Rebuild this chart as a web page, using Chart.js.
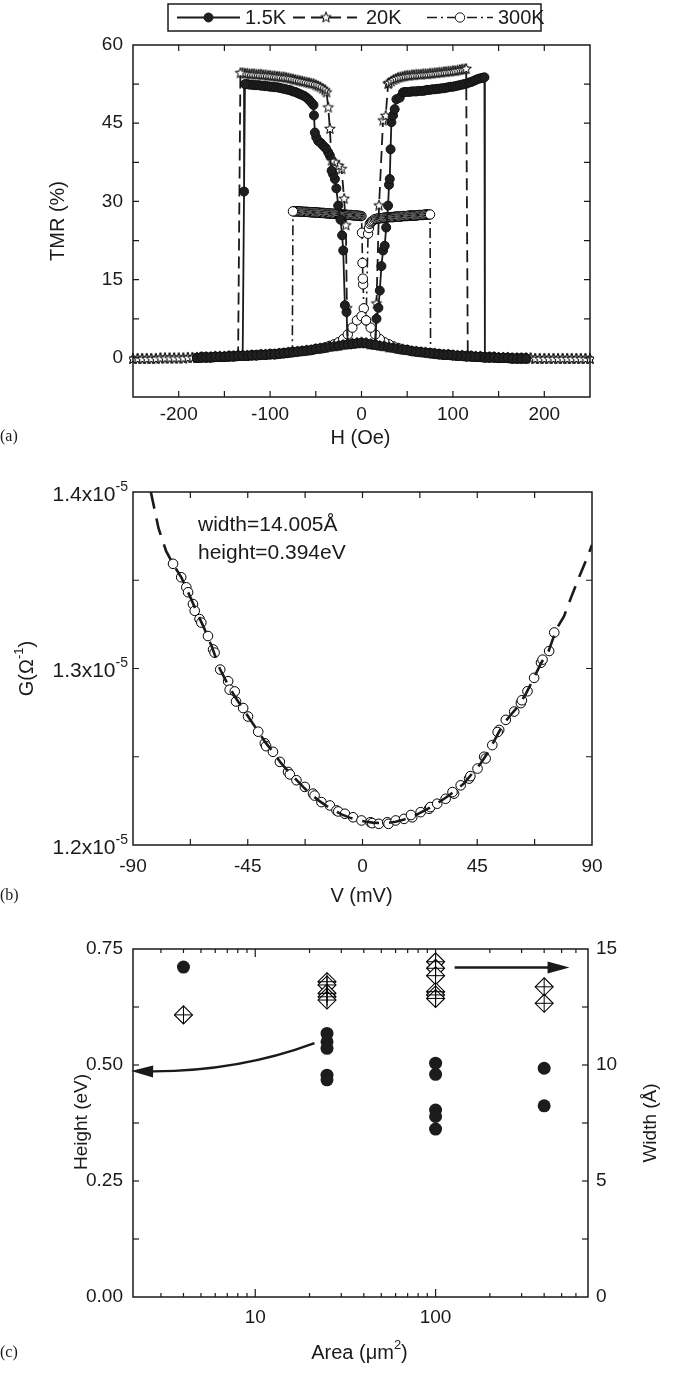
<!DOCTYPE html>
<html><head><meta charset="utf-8">
<script src="https://cdn.jsdelivr.net/npm/chart.js@4.4.1/dist/chart.umd.min.js"></script>
<style>
html,body{margin:0;padding:0;background:#fff;}
#wrap{position:relative;width:680px;height:1374px;background:#fff;overflow:hidden;}
canvas{position:absolute;left:0;}
</style></head><body>
<div id="wrap">
<canvas id="ca" width="680" height="460" style="top:0px"></canvas>
<canvas id="cb" width="680" height="455" style="top:460px"></canvas>
<canvas id="cc" width="680" height="459" style="top:915px"></canvas>
</div>
<script>
// ======================= DATA =======================
// ---- Panel (a): TMR (%) vs H (Oe) ----
const seriesNames = ['1.5K', '20K', '300K'];
const hTicksLabeled = [-200, -100, 0, 100, 200];
const tmrTicksLabeled = [0, 15, 30, 45, 60];

// low-resistance (parallel) baseline, shared H grid
const tailH = [-250,-245,-240,-235,-230,-225,-220,-215,-210,-205,
 -200,-195,-190,-185,-180,-175,-170,-165,-160,-155,
 -150,-145,-140,-135,-130,-125,-120,-115,-110,-105,
 -100,-95,-90,-85,-80,-75,-70,-65,-60,-55,
 -50,-45,-40,-35,-30,-25,-20,-15,-10,-5,
 0,
 5,10,15,20,25,30,35,40,45,50,
 55,60,65,70,75,80,85,90,95,100,
 105,110,115,120,125,130,135,140,145,150,
 155,160,165,170,175,180,185,190,195,200,
 205,210,215,220,225,230,235,240,245,250];
const tail15K = [null,null,null,null,null,null,null,null,null,null,
 null,null,null,null,0.0,0.1,0.1,0.1,0.2,0.2,
 0.2,0.3,0.3,0.4,0.4,0.4,0.5,0.5,0.6,0.6,
 0.7,0.7,0.8,0.9,1.0,1.1,1.2,1.3,1.4,1.5,
 1.7,1.8,1.9,2.1,2.2,2.3,2.5,2.6,2.7,2.8,
 2.9,
 2.8,2.6,2.5,2.3,2.2,2.0,1.9,1.7,1.6,1.5,
 1.3,1.2,1.1,1.0,0.9,0.8,0.7,0.6,0.6,0.5,
 0.4,0.4,0.3,0.3,0.2,0.2,0.1,0.1,0.1,0.0,
 0.0,0.0,-0.1,-0.1,-0.1,-0.1,null,null,null,null,
 null,null,null,null,null,null,null,null,null,null];
const tail20K = [-0.2,-0.2,-0.2,-0.2,-0.2,-0.2,-0.1,-0.1,-0.1,-0.1,
 -0.1,-0.1,0.0,0.0,0.0,0.1,0.1,0.1,0.2,0.2,
 0.2,0.3,0.3,0.4,0.4,0.4,0.5,0.5,0.6,0.6,
 0.7,0.7,0.8,0.9,1.0,1.1,1.2,1.3,1.4,1.5,
 1.7,1.8,1.9,2.1,2.2,2.3,2.5,2.6,2.7,2.8,
 2.9,
 2.8,2.6,2.5,2.3,2.2,2.0,1.9,1.7,1.6,1.5,
 1.3,1.2,1.1,1.0,0.9,0.8,0.7,0.6,0.6,0.5,
 0.4,0.4,0.3,0.3,0.2,0.2,0.1,0.1,0.1,0.0,
 0.0,0.0,-0.1,-0.1,-0.1,-0.1,-0.1,-0.2,-0.2,-0.2,
 -0.2,-0.2,-0.2,-0.2,-0.2,-0.2,-0.2,-0.2,-0.2,-0.2];
const tail300K = [null,null,null,null,null,null,null,null,null,null,
 null,null,null,null,0.0,0.1,0.1,0.1,0.2,0.2,
 0.2,0.3,0.3,0.4,0.4,0.4,0.5,0.5,0.6,0.6,
 0.7,0.7,0.8,0.9,1.0,1.1,1.2,1.3,1.4,1.5,
 1.7,1.8,2.0,2.3,2.6,3.0,3.6,4.5,5.8,7.2,
 8.0,
 7.2,5.8,4.5,3.6,3.0,2.6,2.2,1.9,1.6,1.5,
 1.3,1.2,1.1,1.0,0.9,0.8,0.7,0.6,0.6,0.5,
 0.4,0.4,0.3,0.3,0.2,0.2,0.1,0.1,0.1,0.0,
 0.0,0.0,-0.1,-0.1,-0.1,-0.1,null,null,null,null,
 null,null,null,null,null,null,null,null,null,null];

// switching + high-resistance plateau, [H, TMR], in sweep order
const down15K = [[-16.4,8.8],[-18.2,10.1],[-20.0,20.6],[-21.2,23.5],[-23.0,26.5],[-25.5,29.2],[-27.5,32.5],[-29.1,34.3],[-31.0,35.2],[-32.7,35.9],[-34.6,38.8],[-36.4,39.4],[-39.0,40.2],[-41.9,40.7],[-44.5,41.2],[-47.3,41.6],[-49.5,42.3],[-51.0,43.2],[-52.0,46.5],
 [-52.5,48.5],[-55,49.0],[-57.5,49.5],[-60,49.9],[-62.5,50.2],[-65,50.4],[-67.5,50.6],[-70,50.8],[-72.5,51.0],[-75,51.1],[-77.5,51.3],[-80,51.4],[-82.5,51.5],[-85,51.6],[-87.5,51.7],[-90,51.8],[-92.5,51.9],[-95,51.9],[-97.5,52.0],[-100,52.0],[-102.5,52.1],[-105,52.1],[-107.5,52.2],[-110,52.2],[-112.5,52.3],[-115,52.3],[-117.5,52.3],[-120,52.4],[-122.5,52.4],[-125,52.5],[-127.5,52.5],[-128.5,31.9]];
const up15K = [[16.4,7.5],[18.5,9.6],[20.0,12.9],[21.8,17.6],[23.6,20.6],[25.4,21.5],[27.0,25.0],[29.1,29.2],[30.1,33.2],[30.9,34.3],[31.8,40.0],[32.7,45.2],[34.5,46.5],[36.3,47.7],[38.2,49.6],[41.8,49.9],[45.4,50.9],
 [47.5,51.0],[50,51.0],[52.5,51.0],[55,51.1],[57.5,51.1],[60,51.1],[62.5,51.2],[65,51.2],[67.5,51.2],[70,51.3],[72.5,51.4],[75,51.4],[77.5,51.5],[80,51.5],[82.5,51.6],[85,51.6],[87.5,51.7],[90,51.7],[92.5,51.8],[95,51.9],[97.5,52.0],[100,52.0],[102.5,52.1],[105,52.2],[107.5,52.3],[110,52.4],[112.5,52.5],[115,52.6],[117.5,52.8],[120,52.9],[122.5,53.1],[125,53.3],[127.5,53.5],[130,53.6],[132.5,53.7],[134.5,53.8]];
const down20K = [[-16.0,9.5],[-17.1,25.4],[-19.0,30.5],[-21.8,36.2],[-25.0,36.8],[-29.1,37.5],[-32.7,37.8],[-34.6,43.9],[-36.4,48.0],[-38.2,50.9],
 [-40,51.3],[-42.5,51.6],[-45,51.9],[-47.5,52.1],[-50,52.3],[-52.5,52.5],[-55,52.6],[-57.5,52.7],[-60,52.8],[-62.5,52.9],[-65,53.0],[-67.5,53.1],[-70,53.2],[-72.5,53.3],[-75,53.4],[-77.5,53.5],[-80,53.6],[-82.5,53.7],[-85,53.8],[-87.5,53.8],[-90,53.9],[-92.5,53.9],[-95,54.0],[-97.5,54.0],[-100,54.1],[-102.5,54.1],[-105,54.2],[-107.5,54.2],[-110,54.3],[-112.5,54.3],[-115,54.3],[-117.5,54.4],[-120,54.4],[-122.5,54.4],[-125,54.5],[-127.5,54.5],[-130,54.6],[-132.5,54.6]];
const up20K = [[16.4,10.4],[19.2,29.2],[23.6,45.5],[26.5,46.4],[29.1,52.5],
 [30,52.7],[32.5,53.0],[35,53.3],[37.5,53.5],[40,53.7],[42.5,53.8],[45,53.9],[47.5,54.0],[50,54.1],[52.5,54.1],[55,54.2],[57.5,54.2],[60,54.3],[62.5,54.3],[65,54.3],[67.5,54.4],[70,54.4],[72.5,54.4],[75,54.5],[77.5,54.5],[80,54.6],[82.5,54.6],[85,54.7],[87.5,54.7],[90,54.8],[92.5,54.8],[95,54.9],[97.5,54.9],[100,55.0],[102.5,55.0],[105,55.1],[107.5,55.2],[110,55.3],[112.5,55.3],[114.5,55.4],[116.3,0.3]];
const down300K = [[2.5,9.5],[1.8,14.1],[1.5,15.2],[1.1,18.2],[0.5,24.0],
 [0,27.2],[-1.25,27.2],[-2.5,27.25],[-3.75,27.25],[-5,27.3],[-6.25,27.3],[-7.5,27.3],[-8.75,27.35],[-10,27.35],[-11.25,27.4],[-12.5,27.4],[-13.75,27.4],[-15,27.4],[-16.25,27.45],[-17.5,27.45],[-18.75,27.45],[-20,27.5],[-21.25,27.5],[-22.5,27.5],[-23.75,27.55],[-25,27.55],[-26.25,27.6],[-27.5,27.6],[-28.75,27.6],[-30,27.6],[-31.25,27.65],[-32.5,27.65],[-33.75,27.65],[-35,27.7],[-36.25,27.7],[-37.5,27.7],[-38.75,27.75],[-40,27.75],[-41.25,27.8],[-42.5,27.8],[-43.75,27.8],[-45,27.8],[-46.25,27.85],[-47.5,27.85],[-48.75,27.85],[-50,27.9],[-51.25,27.9],[-52.5,27.9],[-53.75,27.9],[-55,27.95],[-56.25,27.95],[-57.5,27.95],[-58.75,28.0],[-60,28.0],[-61.25,28.0],[-62.5,28.0],[-63.75,28.0],[-65,28.05],[-66.25,28.05],[-67.5,28.05],[-68.75,28.1],[-70,28.1],[-71.25,28.1],[-72.5,28.1],[-73.75,28.1],[-75,28.1],[-75.7,1.1]];
const up300K = [[7.2,23.8],[8.2,24.9],[9.1,25.7],[10.3,26.0],[11.5,26.2],[13.0,26.4],[14.5,26.6],[16.0,26.65],
 [17.5,26.7],[18.75,26.75],[20,26.8],[21.25,26.8],[22.5,26.8],[23.75,26.85],[25,26.9],[26.25,26.9],[27.5,26.9],[28.75,26.95],[30,27.0],[31.25,27.0],[32.5,27.0],[33.75,27.0],[35,27.0],[36.25,27.05],[37.5,27.1],[38.75,27.1],[40,27.1],[41.25,27.1],[42.5,27.1],[43.75,27.15],[45,27.2],[46.25,27.2],[47.5,27.2],[48.75,27.2],[50,27.2],[51.25,27.25],[52.5,27.3],[53.75,27.3],[55,27.3],[56.25,27.3],[57.5,27.3],[58.75,27.3],[60,27.3],[61.25,27.35],[62.5,27.4],[63.75,27.4],[65,27.4],[66.25,27.4],[67.5,27.4],[68.75,27.45],[70,27.5],[71.25,27.5],[72.5,27.5],[73.75,27.5],[75,27.5],[75.6,0.9]];

// ---- Panel (b): G vs V ----
const vTicksLabeled = [-90, -45, 0, 45, 90];
const gTicksLabeled = [1.2, 1.3, 1.4];            // in units of 1e-5 Ohm^-1
const vData = [-74.3,-71.1,-69.1,-68.4,-66.5,-65.8,-63.9,-63.2,-60.6,-58.6,-58.0,-55.8,-52.7,-52.1,-50.1,-49.6,-46.8,-44.9,-40.9,-38.3,-37.8,-35.1,-32.4,-29.2,-28.5,-25.9,-22.6,-19.4,-18.8,-16.1,-12.8,-10.2,-9.5,-6.9,-3.7,-0.4,
 3.1,3.8,6.4,9.7,10.2,13.0,16.3,19.5,19.0,22.8,26.1,26.6,29.3,32.6,35.9,35.3,38.5,41.8,42.3,45.1,47.7,48.3,50.9,53.6,53.0,56.2,59.5,62.1,62.5,64.7,67.3,70.0,70.6,73.2,75.2];
const gData = [1.3593,1.3517,1.3460,1.3432,1.3365,1.3327,1.3280,1.3260,1.3184,1.3108,1.3090,1.2994,1.2928,1.2880,1.2870,1.2813,1.2776,1.2728,1.2642,1.2576,1.2560,1.2528,1.2471,1.2414,1.2400,1.2367,1.2329,1.2291,1.2280,1.2243,1.2224,1.2196,1.2190,1.2177,1.2157,1.2139,
 1.2129,1.2124,1.2120,1.2129,1.2120,1.2139,1.2148,1.2157,1.2170,1.2186,1.2205,1.2215,1.2234,1.2262,1.2291,1.2300,1.2338,1.2376,1.2390,1.2433,1.2500,1.2490,1.2566,1.2652,1.2640,1.2709,1.2756,1.2804,1.2820,1.2871,1.2947,1.3033,1.3050,1.3099,1.3204];
const vFit = [-83,-80,-77,-74,-71,-68,-65,-62,-59,-56,-53,-50,-47,-44,-41,-38,-35,-32,-29,-26,-23,-20,-17,-14,-11,-8,-5,-2,1,4,7,10,13,16,19,22,25,28,31,34,37,40,43,46,49,52,55,58,61,64,67,70,73,76,79,82,85,88,90];
const gFit = [1.4000,1.3795,1.3665,1.3585,1.3515,1.3420,1.3320,1.3225,1.3120,1.3000,1.2915,1.2840,1.2775,1.2710,1.2645,1.2580,1.2525,1.2465,1.2415,1.2370,1.2325,1.2285,1.2250,1.2220,1.2195,1.2172,1.2155,1.2142,1.2133,1.2127,1.2124,1.2125,1.2132,1.2143,1.2158,1.2178,1.2200,1.2225,1.2252,1.2282,1.2315,1.2352,1.2405,1.2455,1.2520,1.2600,1.2680,1.2735,1.2785,1.2855,1.2940,1.3030,1.3100,1.3222,1.3295,1.3410,1.3520,1.3625,1.3700];
const fitLabels = ['width=14.005\u00C5', 'height=0.394eV'];

// ---- Panel (c): barrier height / width vs junction area ----
const areaTicks = [3,4,5,6,7,8,9,10,20,30,40,50,60,70,80,90,100,200,300,400,500,600,700];
const areaTicksLabeled = [10, 100];
const heightTicksLabeled = [0, 0.25, 0.5, 0.75];
const widthTicksLabeled = [0, 5, 10, 15];
const areaForHeight = [4, 25,25,25,25,25, 100,100,100,100,100, 400,400];
const heightEV = [0.711, 0.568,0.550,0.536,0.478,0.468, 0.504,0.480,0.403,0.389,0.362, 0.493,0.412];
const areaForWidth = [4, 25,25,25,25,25, 100,100,100,100,100,100, 400,400];
const widthA = [12.16, 13.59,13.45,13.09,12.94,12.80, 14.45,14.17,13.85,13.16,13.02,12.87, 13.37,12.66];
// arrow annotations, data coordinates
const arrowHeight = {from: [21.3, 0.547], ctrl: [7.7, 0.483], to: [2.05, 0.487]};
const arrowWidth = {from: [127.5, 14.2], to: [553, 14.2]};

// ======================= STYLE / HELPERS =======================
const FONT = '"Liberation Sans", Arial, Helvetica, sans-serif';
const SERIF = '"Liberation Serif", "Times New Roman", serif';
const INK = '#1a1a1a';
const TICK = 19, TITLE = 20;
Chart.defaults.font.family = FONT;
Chart.defaults.color = INK;

function makeStar(r, ri) {
  const s = Math.ceil(2 * r + 3), c = document.createElement('canvas');
  c.width = c.height = s;
  const g = c.getContext('2d'), cx = s / 2, cy = s / 2;
  g.beginPath();
  for (let i = 0; i < 10; i++) {
    const ang = -Math.PI / 2 + i * Math.PI / 5, rr = i % 2 ? ri : r;
    g.lineTo(cx + rr * Math.cos(ang), cy + rr * Math.sin(ang));
  }
  g.closePath(); g.fillStyle = '#fff'; g.fill();
  g.strokeStyle = '#000'; g.lineWidth = 1; g.stroke();
  return c;
}
const starImg = makeStar(5.5, 2.3);

function drawRich(ctx, parts, x, y, align, size) {
  const main = size + 'px ' + FONT, sup = Math.round(size * 0.65) + 'px ' + FONT;
  let w = 0;
  parts.forEach(p => { ctx.font = p.sup ? sup : main; p.w = ctx.measureText(p.t).width; w += p.w; });
  let cx = align === 'right' ? x - w : align === 'center' ? x - w / 2 : x;
  ctx.textBaseline = 'middle'; ctx.textAlign = 'left'; ctx.fillStyle = INK;
  parts.forEach(p => { ctx.font = p.sup ? sup : main; ctx.fillText(p.t, cx, p.sup ? y - size * 0.38 : y); cx += p.w; });
}
function drawText(ctx, t, x, y, align, font, rot) {
  ctx.save(); ctx.fillStyle = INK; ctx.font = font; ctx.textAlign = align; ctx.textBaseline = 'middle';
  ctx.translate(x, y); if (rot) ctx.rotate(rot); ctx.fillText(t, 0, 0); ctx.restore();
}
function makeFrame(axes, extra) {
  return {
    id: 'frame',
    afterDraw(chart) {
      const {ctx, chartArea: a} = chart;
      ctx.save();
      ctx.strokeStyle = INK; ctx.lineWidth = 1.5;
      ctx.strokeRect(a.left, a.top, a.right - a.left, a.bottom - a.top);
      ctx.lineWidth = 1.2;
      axes.forEach(ax => {
        const s = chart.scales[ax.id];
        s.ticks.forEach(t => {
          const p = s.getPixelForValue(t.value);
          const len = ax.major && ax.major(t.value) ? ax.lenMajor : ax.len;
          ctx.beginPath();
          if (s.isHorizontal()) {
            if (p < a.left + 1 || p > a.right - 1) return;
            ctx.moveTo(p, a.bottom); ctx.lineTo(p, a.bottom - len);
            ctx.moveTo(p, a.top); ctx.lineTo(p, a.top + len);
          } else {
            if (p < a.top + 1 || p > a.bottom - 1) return;
            if (ax.sides.includes('l')) { ctx.moveTo(a.left, p); ctx.lineTo(a.left + len, p); }
            if (ax.sides.includes('r')) { ctx.moveTo(a.right, p); ctx.lineTo(a.right - len, p); }
          }
          ctx.stroke();
        });
      });
      ctx.restore();
      if (extra) { ctx.save(); extra(chart, ctx, a); ctx.restore(); }
    }
  };
}
const near = (arr, v) => arr.some(u => Math.abs(u - v) < 1e-6);
function baseTicks(pad, cb) {
  return {color: INK, font: {family: FONT, size: TICK}, padding: pad, autoSkip: false, maxRotation: 0, minRotation: 0, callback: cb};
}
const noGrid = {display: false, drawTicks: false};
const noBorder = {display: false};

// ======================= PANEL (a) =======================
function loop(tail, down, up) {
  const t = tailH.map((h, i) => tail[i] == null ? null : {x: h, y: tail[i]}).filter(Boolean);
  const pts = [];
  const d0 = down[0][0], d1 = down[down.length - 1][0], u0 = up[0][0], u1 = up[up.length - 1][0];
  t.filter(p => p.x > d0).sort((a, b) => b.x - a.x).forEach(p => pts.push(p));
  down.forEach(([x, y]) => pts.push({x, y}));
  t.filter(p => p.x < d1).sort((a, b) => b.x - a.x).forEach(p => pts.push(p));
  t.filter(p => p.x < u0).sort((a, b) => a.x - b.x).forEach(p => pts.push(p));
  up.forEach(([x, y]) => pts.push({x, y}));
  t.filter(p => p.x > u1).sort((a, b) => a.x - b.x).forEach(p => pts.push(p));
  return pts;
}
const styleA = [
  {borderColor: INK, borderWidth: 1.8, borderDash: [], pointStyle: 'circle', pointRadius: 4.5, pointBackgroundColor: '#202020', pointBorderColor: '#111', pointBorderWidth: 1},
  {borderColor: INK, borderWidth: 1.8, borderDash: [12, 6], pointStyle: starImg, pointRadius: 5, pointBackgroundColor: '#fff', pointBorderColor: INK, pointBorderWidth: 1},
  {borderColor: INK, borderWidth: 1.6, borderDash: [10, 4, 2, 4], pointStyle: 'circle', pointRadius: 4.7, pointBackgroundColor: '#fff', pointBorderColor: '#000', pointBorderWidth: 1}
];
const loopsA = [loop(tail15K, down15K, up15K), loop(tail20K, down20K, up20K), loop(tail300K, down300K, up300K)];

function drawLegendA(ctx) {
  ctx.strokeStyle = INK; ctx.lineWidth = 1.5;
  ctx.strokeRect(168, 4, 373, 27);
  const yc = 17.5;
  const items = [{x0: 177, x1: 240, m: 208.5, tx: 245}, {x0: 293, x1: 357, m: 326, tx: 366}, {x0: 427, x1: 493, m: 460, tx: 498}];
  items.forEach((it, i) => {
    const st = styleA[i];
    ctx.save();
    ctx.strokeStyle = INK; ctx.lineWidth = st.borderWidth; ctx.setLineDash(st.borderDash);
    ctx.beginPath(); ctx.moveTo(it.x0, yc); ctx.lineTo(it.x1, yc); ctx.stroke();
    ctx.setLineDash([]);
    if (st.pointStyle === 'circle') {
      ctx.beginPath(); ctx.arc(it.m, yc, st.pointRadius, 0, Math.PI * 2);
      ctx.fillStyle = st.pointBackgroundColor; ctx.fill(); ctx.lineWidth = 1; ctx.strokeStyle = INK; ctx.stroke();
    } else {
      ctx.drawImage(st.pointStyle, it.m - st.pointStyle.width / 2, yc - st.pointStyle.height / 2);
    }
    ctx.restore();
    drawText(ctx, seriesNames[i], it.tx, yc + 1, 'left', '20px ' + FONT);
  });
}

new Chart(document.getElementById('ca'), {
  type: 'scatter',
  data: {datasets: seriesNames.map((n, i) => Object.assign({label: n, data: loopsA[i], showLine: true, order: i + 1, clip: 4}, styleA[i]))},
  options: {
    responsive: false, animation: false, devicePixelRatio: 1, events: [],
    layout: {padding: {top: 45, right: 90, left: 0, bottom: 0}},
    plugins: {legend: {display: false}, tooltip: {enabled: false}},
    scales: {
      x: {type: 'linear', position: 'bottom', min: -250, max: 250, grid: noGrid, border: noBorder,
          ticks: Object.assign(baseTicks(6, v => near(hTicksLabeled, v) ? String(v) : ''), {stepSize: 50}),
          afterFit: s => { s.height = 63; }},
      y: {type: 'linear', min: -7.5, max: 60, grid: noGrid, border: noBorder,
          ticks: Object.assign(baseTicks(10, v => near(tmrTicksLabeled, v) ? String(v) : ''), {stepSize: 7.5}),
          afterFit: s => { s.width = 133; }}
    }
  },
  plugins: [makeFrame([{id: 'x', len: 6, lenMajor: 6}, {id: 'y', len: 6, lenMajor: 6, sides: 'lr'}], (chart, ctx, a) => {
    drawLegendA(ctx);
    drawText(ctx, 'H (Oe)', (a.left + a.right) / 2 - 1, 438, 'center', TITLE + 'px ' + FONT);
    drawText(ctx, 'TMR (%)', 58, (a.top + a.bottom) / 2, 'center', TITLE + 'px ' + FONT, -Math.PI / 2);
    drawText(ctx, '(a)', 0, 437, 'left', '16px ' + SERIF);
  })]
});

// ======================= PANEL (b) =======================
new Chart(document.getElementById('cb'), {
  type: 'scatter',
  data: {datasets: [
    {label: 'fit', data: vFit.map((v, i) => ({x: v, y: gFit[i]})), showLine: true, pointRadius: 0, borderColor: INK, borderWidth: 2.6, borderDash: [17, 10], order: 0, clip: 0},
    {label: 'data', data: vData.map((v, i) => ({x: v, y: gData[i]})), showLine: false, pointStyle: 'circle', pointRadius: 4.8, pointBackgroundColor: '#fff', pointBorderColor: '#000', pointBorderWidth: 1, order: 1}
  ]},
  options: {
    responsive: false, animation: false, devicePixelRatio: 1, events: [],
    layout: {padding: {top: 32, right: 88, left: 0, bottom: 0}},
    plugins: {legend: {display: false}, tooltip: {enabled: false}},
    scales: {
      x: {type: 'linear', min: -90, max: 90, grid: noGrid, border: noBorder,
          ticks: Object.assign(baseTicks(10, v => near(vTicksLabeled, v) ? String(v) : ''), {stepSize: 22.5}),
          afterFit: s => { s.height = 70; }},
      y: {type: 'linear', min: 1.2, max: 1.4, grid: noGrid, border: noBorder,
          ticks: Object.assign(baseTicks(8, () => ''), {stepSize: 0.05}),
          afterFit: s => { s.width = 133; }}
    }
  },
  plugins: [makeFrame([{id: 'x', len: 6, lenMajor: 6}, {id: 'y', len: 6, lenMajor: 6, sides: 'lr'}], (chart, ctx, a) => {
    const ys = chart.scales.y;
    gTicksLabeled.forEach(v => drawRich(ctx, [{t: v.toFixed(1) + 'x10'}, {t: '-5', sup: true}], a.left - 5, ys.getPixelForValue(v) + 3, 'right', 21));
    drawText(ctx, fitLabels[0], 198, 65, 'left', '21px ' + FONT);
    drawText(ctx, fitLabels[1], 198, 93, 'left', '21px ' + FONT);
    drawText(ctx, 'V (mV)', (a.left + a.right) / 2 - 1, 436, 'center', TITLE + 'px ' + FONT);
    ctx.save(); ctx.translate(27, (a.top + a.bottom) / 2); ctx.rotate(-Math.PI / 2);
    drawRich(ctx, [{t: 'G(\u03A9'}, {t: '-1', sup: true}, {t: ')'}], 0, 0, 'center', TITLE);
    ctx.restore();
    drawText(ctx, '(b)', 0, 436, 'left', '16px ' + SERIF);
  })]
});

// ======================= PANEL (c) =======================
function arrowHead(ctx, tip, from, len, hw) {
  const dx = tip[0] - from[0], dy = tip[1] - from[1], d = Math.hypot(dx, dy), ux = dx / d, uy = dy / d;
  ctx.beginPath();
  ctx.moveTo(tip[0], tip[1]);
  ctx.lineTo(tip[0] - ux * len - uy * hw, tip[1] - uy * len + ux * hw);
  ctx.lineTo(tip[0] - ux * len + uy * hw, tip[1] - uy * len - ux * hw);
  ctx.closePath(); ctx.fill();
}
const widthPts = areaForWidth.map((v, i) => ({x: v, y: widthA[i]}));
new Chart(document.getElementById('cc'), {
  type: 'scatter',
  data: {datasets: [
    {label: 'Height', yAxisID: 'y', data: areaForHeight.map((v, i) => ({x: v, y: heightEV[i]})), pointStyle: 'circle', pointRadius: 6.5, pointBackgroundColor: '#1c1c1c', pointBorderColor: '#1c1c1c', pointBorderWidth: 0, order: 0},
    {label: 'Width', yAxisID: 'y2', data: widthPts, pointStyle: 'cross', pointRadius: 9, pointBorderColor: '#000', pointBorderWidth: 1, order: 1},
    {label: 'Width-outline', yAxisID: 'y2', data: widthPts, pointStyle: 'rectRot', pointRadius: 9, pointBackgroundColor: '#fff', pointBorderColor: '#000', pointBorderWidth: 1.1, order: 2}
  ]},
  options: {
    responsive: false, animation: false, devicePixelRatio: 1, events: [],
    layout: {padding: {top: 34, right: 0, left: 0, bottom: 0}},
    plugins: {legend: {display: false}, tooltip: {enabled: false}},
    scales: {
      x: {type: 'logarithmic', min: 2.1, max: 700, grid: noGrid, border: noBorder,
          afterBuildTicks: s => { s.ticks = areaTicks.map(v => ({value: v})); },
          ticks: baseTicks(9, v => near(areaTicksLabeled, v) ? String(v) : ''),
          afterFit: s => { s.height = 77; }},
      y: {type: 'linear', position: 'left', min: 0, max: 0.75, grid: noGrid, border: noBorder,
          ticks: Object.assign(baseTicks(10, v => near(heightTicksLabeled, v) ? v.toFixed(2) : ''), {stepSize: 0.125}),
          afterFit: s => { s.width = 133; }},
      y2: {type: 'linear', position: 'right', min: 0, max: 15, grid: noGrid, border: noBorder,
          ticks: Object.assign(baseTicks(8, v => near(widthTicksLabeled, v) ? String(v) : ''), {stepSize: 2.5}),
          afterFit: s => { s.width = 92; }}
    }
  },
  plugins: [makeFrame([
      {id: 'x', len: 4, lenMajor: 8, major: v => near(areaTicksLabeled, v)},
      {id: 'y', len: 6, lenMajor: 6, sides: 'l'},
      {id: 'y2', len: 6, lenMajor: 6, sides: 'r'}], (chart, ctx, a) => {
    const {x, y, y2} = chart.scales;
    ctx.strokeStyle = INK; ctx.fillStyle = INK; ctx.lineWidth = 2.4;
    // curved arrow to the left (Height) axis
    const f = [x.getPixelForValue(arrowHeight.from[0]), y.getPixelForValue(arrowHeight.from[1])];
    const c = [x.getPixelForValue(arrowHeight.ctrl[0]), y.getPixelForValue(arrowHeight.ctrl[1])];
    const t = [x.getPixelForValue(arrowHeight.to[0]), y.getPixelForValue(arrowHeight.to[1])];
    const cut = [t[0] + (c[0] - t[0]) * 0.12, t[1] + (c[1] - t[1]) * 0.12];
    ctx.beginPath(); ctx.moveTo(f[0], f[1]); ctx.quadraticCurveTo(c[0], c[1], cut[0], cut[1]); ctx.stroke();
    arrowHead(ctx, t, c, 22, 6);
    // straight arrow to the right (Width) axis
    const f2 = [x.getPixelForValue(arrowWidth.from[0]), y2.getPixelForValue(arrowWidth.from[1])];
    const t2 = [x.getPixelForValue(arrowWidth.to[0]), y2.getPixelForValue(arrowWidth.to[1])];
    ctx.beginPath(); ctx.moveTo(f2[0], f2[1]); ctx.lineTo(t2[0] - 15, t2[1]); ctx.stroke();
    arrowHead(ctx, t2, f2, 22, 6);
    ctx.save(); ctx.translate((a.left + a.right) / 2 - 1, 438);
    drawRich(ctx, [{t: 'Area (\u03BCm'}, {t: '2', sup: true}, {t: ')'}], 0, 0, 'center', TITLE);
    ctx.restore();
    drawText(ctx, 'Height (eV)', 82, (a.top + a.bottom) / 2 - 1, 'center', '19px ' + FONT, -Math.PI / 2);
    drawText(ctx, 'Width (\u00C5)', 651, (a.top + a.bottom) / 2, 'center', '19px ' + FONT, -Math.PI / 2);
    drawText(ctx, '(c)', 0, 438, 'left', '16px ' + SERIF);
  })]
});
</script>
</body></html>
